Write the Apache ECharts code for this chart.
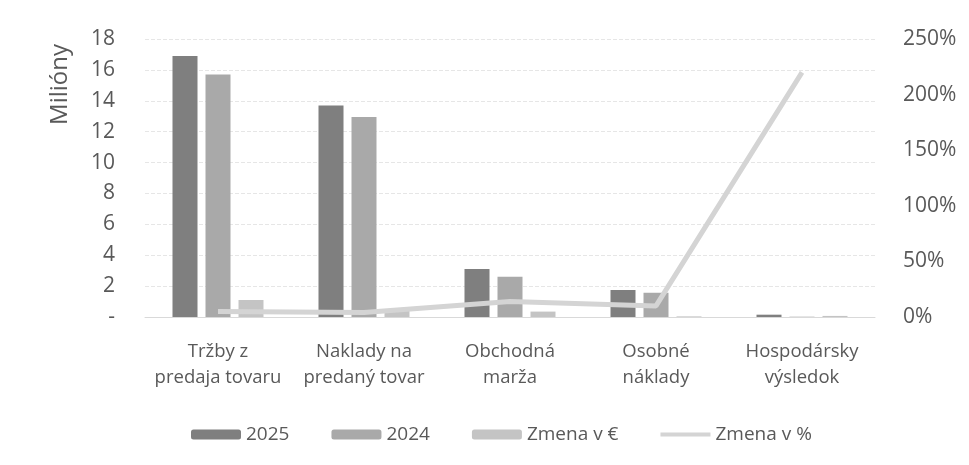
<!DOCTYPE html>
<html>
<head>
<meta charset="utf-8">
<script src="https://cdn.jsdelivr.net/npm/echarts@6/dist/echarts.min.js"></script>
<style>
html, body { margin: 0; padding: 0; background: #fff; }
#chart { width: 969px; height: 465px; }
</style>
</head>
<body>
<div id="chart"></div>
<script>
// kategorie
var categories = ['Tržby z\npredaja tovaru', 'Naklady na\npredaný tovar', 'Obchodná\nmarža', 'Osobné\nnáklady', 'Hospodársky\nvýsledok'];
// hodnoty v milionoch
var rok2025 = [16.9, 13.7, 3.1, 1.75, 0.15];
var rok2024 = [15.7, 12.95, 2.6, 1.57, 0.02];
var zmenaEur = [1.1, 0.4, 0.35, 0.04, 0.07];
// zmena v %
var zmenaPct = [5, 4, 14, 10, 220];

var leftTicks = [0, 2, 4, 6, 8, 10, 12, 14, 16, 18];

var dom = document.getElementById('chart');
var myChart = echarts.init(dom);
var textColor = '#595959';
var font = 'Open Sans';

var option = {
	backgroundColor: '#fff',
	animation: false,
	textStyle: { fontFamily: font },
	graphic: [{
		type: 'text',
		left: 48,
		top: 44,
		rotation: Math.PI / 2,
		style: { text: 'Milióny', fill: textColor, fontSize: 24, fontFamily: font }
	}],
	legend: {
		bottom: 16,
		left: 186,
		itemWidth: 50,
		itemHeight: 10,
		itemGap: 42,
		textStyle: { color: textColor, fontSize: 19, fontFamily: font },
		data: ['2025', '2024', 'Zmena v €', { name: 'Zmena v %', icon: 'path://M0,0 H50 V4 H0 Z' }]
	},
	grid: { left: 145, right: 94, top: 39, bottom: 148 },
	xAxis: {
		type: 'category',
		data: categories,
		axisTick: { show: false },
		axisLine: { lineStyle: { color: '#d9d9d9' } },
		axisLabel: { interval: 0, color: textColor, fontSize: 18.5, lineHeight: 26, margin: 22, fontFamily: font }
	},
	yAxis: [{
		type: 'value',
		min: leftTicks[0],
		max: leftTicks[leftTicks.length - 1],
		interval: 2,
		axisLabel: {
			color: textColor, fontSize: 21, margin: 30, fontFamily: font,
			formatter: function (v) { return v === 0 ? '-' : v; }
		},
		axisLine: { show: false },
		axisTick: { show: false },
		splitLine: { lineStyle: { color: '#e6e6e6', type: 'dashed' } }
	}, {
		type: 'value',
		min: 0,
		max: 250,
		interval: 50,
		axisLabel: { color: textColor, fontSize: 21, margin: 28, fontFamily: font, formatter: '{value}%' },
		axisLine: { show: false },
		axisTick: { show: false },
		splitLine: { show: false }
	}],
	series: [{
		name: '2025',
		type: 'bar',
		data: rok2025,
		barWidth: 25,
		barGap: '32%',
		itemStyle: { color: '#7f7f7f' }
	}, {
		name: '2024',
		type: 'bar',
		data: rok2024,
		barWidth: 25,
		barGap: '32%',
		itemStyle: { color: '#a9a9a9' }
	}, {
		name: 'Zmena v €',
		type: 'bar',
		data: zmenaEur,
		barWidth: 25,
		barGap: '32%',
		itemStyle: { color: '#c4c4c4' }
	}, {
		name: 'Zmena v %',
		type: 'line',
		yAxisIndex: 1,
		data: zmenaPct,
		symbol: 'none',
		lineStyle: { color: '#d4d4d4', width: 5 },
		itemStyle: { color: '#d4d4d4' },
		z: 5
	}]
};

myChart.setOption(option, true);
</script>
</body>
</html>
